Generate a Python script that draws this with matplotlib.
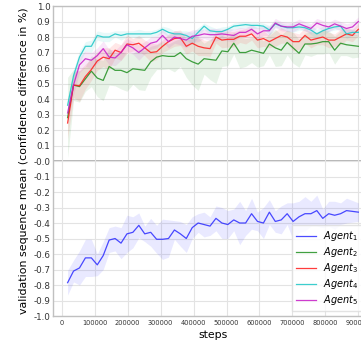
import numpy as np
import matplotlib
matplotlib.use("Agg")
import matplotlib.pyplot as plt

steps = np.arange(1, 51) * 18000

# agent 1 (negative side)
agent1 = [-0.785, -0.71, -0.69, -0.625, -0.625, -0.67, -0.61, -0.51, -0.50, -0.53,
          -0.47, -0.46, -0.415, -0.47, -0.46, -0.505, -0.505, -0.50, -0.445, -0.47,
          -0.50, -0.43, -0.40, -0.41, -0.42, -0.37, -0.40, -0.41, -0.38, -0.40,
          -0.40, -0.34, -0.39, -0.40, -0.33, -0.39, -0.38, -0.34, -0.39, -0.36,
          -0.34, -0.34, -0.32, -0.37, -0.34, -0.35, -0.34, -0.32, -0.325, -0.33]
agent1_sd = [0.08, 0.07, 0.11, 0.12, 0.12, 0.07, 0.09, 0.08, 0.08, 0.10,
             0.12, 0.10, 0.08, 0.05, 0.09, 0.09, 0.13, 0.12, 0.06, 0.08,
             0.09, 0.07, 0.06, 0.08, 0.06, 0.08, 0.10, 0.09, 0.07, 0.14,
             0.08, 0.10, 0.06, 0.10, 0.08, 0.07, 0.09, 0.07, 0.12, 0.10,
             0.11, 0.08, 0.10, 0.06, 0.08, 0.09, 0.07, 0.08, 0.07, 0.06]

agent2 = [0.28, 0.49, 0.48, 0.53, 0.58, 0.535, 0.52, 0.61, 0.585, 0.585,
          0.57, 0.595, 0.59, 0.585, 0.64, 0.67, 0.68, 0.675, 0.675, 0.70,
          0.66, 0.64, 0.625, 0.66, 0.655, 0.65, 0.71, 0.705, 0.76, 0.70,
          0.70, 0.715, 0.705, 0.695, 0.755, 0.73, 0.715, 0.765, 0.73, 0.695,
          0.755, 0.755, 0.76, 0.77, 0.77, 0.715, 0.76, 0.75, 0.745, 0.74]
agent2_sd = [0.26, 0.10, 0.10, 0.08, 0.10, 0.12, 0.13, 0.12, 0.10, 0.12,
             0.12, 0.10, 0.13, 0.13, 0.10, 0.08, 0.09, 0.08, 0.10, 0.09,
             0.12, 0.15, 0.17, 0.10, 0.13, 0.15, 0.10, 0.09, 0.07, 0.10,
             0.09, 0.08, 0.10, 0.08, 0.07, 0.12, 0.10, 0.08, 0.10, 0.09,
             0.07, 0.08, 0.07, 0.08, 0.07, 0.09, 0.08, 0.07, 0.08, 0.07]

agent3 = [0.245, 0.49, 0.485, 0.545, 0.59, 0.645, 0.67, 0.66, 0.715, 0.70,
          0.755, 0.75, 0.76, 0.73, 0.70, 0.705, 0.74, 0.77, 0.79, 0.795,
          0.74, 0.76, 0.74, 0.73, 0.725, 0.80, 0.78, 0.785, 0.785, 0.805,
          0.805, 0.82, 0.78, 0.79, 0.77, 0.79, 0.81, 0.80, 0.77, 0.77,
          0.81, 0.78, 0.79, 0.80, 0.78, 0.78, 0.80, 0.82, 0.81, 0.85]
agent3_sd = [0.10, 0.08, 0.10, 0.08, 0.07, 0.06, 0.06, 0.07, 0.05, 0.05,
             0.06, 0.04, 0.05, 0.05, 0.06, 0.05, 0.04, 0.05, 0.05, 0.05,
             0.05, 0.05, 0.06, 0.05, 0.05, 0.04, 0.05, 0.05, 0.05, 0.04,
             0.05, 0.04, 0.05, 0.05, 0.04, 0.05, 0.05, 0.04, 0.06, 0.05,
             0.05, 0.05, 0.04, 0.05, 0.05, 0.04, 0.05, 0.04, 0.04, 0.04]

agent4 = [0.36, 0.55, 0.67, 0.74, 0.74, 0.81, 0.80, 0.80, 0.82, 0.81,
          0.82, 0.82, 0.82, 0.82, 0.82, 0.83, 0.85, 0.83, 0.82, 0.82,
          0.81, 0.79, 0.83, 0.87, 0.84, 0.835, 0.835, 0.85, 0.87, 0.875,
          0.88, 0.875, 0.875, 0.87, 0.845, 0.885, 0.87, 0.86, 0.86, 0.865,
          0.86, 0.845, 0.82, 0.84, 0.855, 0.865, 0.87, 0.82, 0.83, 0.83]
agent4_sd = [0.04, 0.04, 0.04, 0.03, 0.04, 0.03, 0.03, 0.03, 0.02, 0.03,
             0.02, 0.02, 0.03, 0.02, 0.02, 0.02, 0.02, 0.03, 0.02, 0.02,
             0.03, 0.04, 0.03, 0.02, 0.03, 0.02, 0.03, 0.02, 0.02, 0.02,
             0.02, 0.02, 0.02, 0.02, 0.03, 0.02, 0.02, 0.02, 0.03, 0.02,
             0.02, 0.03, 0.03, 0.03, 0.02, 0.02, 0.02, 0.03, 0.02, 0.02]

agent5 = [0.31, 0.49, 0.62, 0.66, 0.65, 0.68, 0.725, 0.67, 0.665, 0.70,
          0.75, 0.73, 0.70, 0.73, 0.76, 0.77, 0.81, 0.77, 0.80, 0.79,
          0.78, 0.805, 0.81, 0.82, 0.815, 0.815, 0.82, 0.815, 0.81, 0.83,
          0.83, 0.85, 0.82, 0.84, 0.84, 0.89, 0.87, 0.865, 0.865, 0.885,
          0.87, 0.855, 0.89, 0.875, 0.865, 0.885, 0.87, 0.855, 0.865, 0.90]
agent5_sd = [0.06, 0.06, 0.05, 0.05, 0.05, 0.05, 0.05, 0.05, 0.05, 0.05,
             0.04, 0.04, 0.05, 0.04, 0.04, 0.04, 0.04, 0.04, 0.04, 0.04,
             0.05, 0.04, 0.04, 0.03, 0.04, 0.04, 0.03, 0.04, 0.04, 0.03,
             0.03, 0.03, 0.04, 0.03, 0.03, 0.03, 0.03, 0.03, 0.03, 0.03,
             0.03, 0.03, 0.03, 0.03, 0.03, 0.03, 0.03, 0.03, 0.03, 0.03]

series = [(agent1, agent1_sd, "#2b2bff", r"$Agent_1$"),
          (agent2, agent2_sd, "#1f8f1f", r"$Agent_2$"),
          (agent3, agent3_sd, "#ff1a1a", r"$Agent_3$"),
          (agent4, agent4_sd, "#1ac6c6", r"$Agent_4$"),
          (agent5, agent5_sd, "#c61ac6", r"$Agent_5$")]

fig = plt.figure(figsize=(3.61, 3.43), dpi=100)
ax = fig.add_axes([0.147, 0.0787, 0.886, 0.9038])

for mean, sd, col, lab in series:
    mean = np.array(mean)
    sd = np.array(sd)
    ax.fill_between(steps, mean - sd, mean + sd, color=col, alpha=0.1, lw=0)
    ax.plot(steps, mean, color=col, lw=0.9, alpha=0.85, label=lab)

ax.axhline(0, color="#b0b0b0", lw=1.3, zorder=0.5)
ax.set_ylim(-1.0, 1.0)
ax.set_yticks(np.round(np.arange(-1.0, 1.01, 0.1), 1))
ax.yaxis.set_major_formatter(matplotlib.ticker.FormatStrFormatter("%.1f"))
ax.set_xticks(np.arange(0, 900001, 100000))
ax.grid(True, color="#e3e3e3", lw=0.8)
ax.set_axisbelow(True)
for s in ax.spines.values():
    s.set_color("#c0c0c0")
    s.set_linewidth(1.0)
ax.tick_params(axis="both", length=0, colors="#333333")
ax.tick_params(axis="y", labelsize=6.3, pad=2)
ax.tick_params(axis="x", labelsize=4.8, pad=3)

ax.set_ylabel("validation sequence mean (confidence difference in %)", fontsize=7.95, labelpad=3)
ax.set_xlabel("steps", fontsize=7.8, labelpad=3)

leg = ax.legend(loc="lower left", bbox_to_anchor=(0.748, 0.016), borderaxespad=0,
                fontsize=7.0, labelspacing=0.2, handlelength=2.0, handletextpad=0.8,
                borderpad=0.4, frameon=True, fancybox=False)
leg.get_frame().set_edgecolor("#dddddd")

fig.savefig("out.png", dpi=100)
